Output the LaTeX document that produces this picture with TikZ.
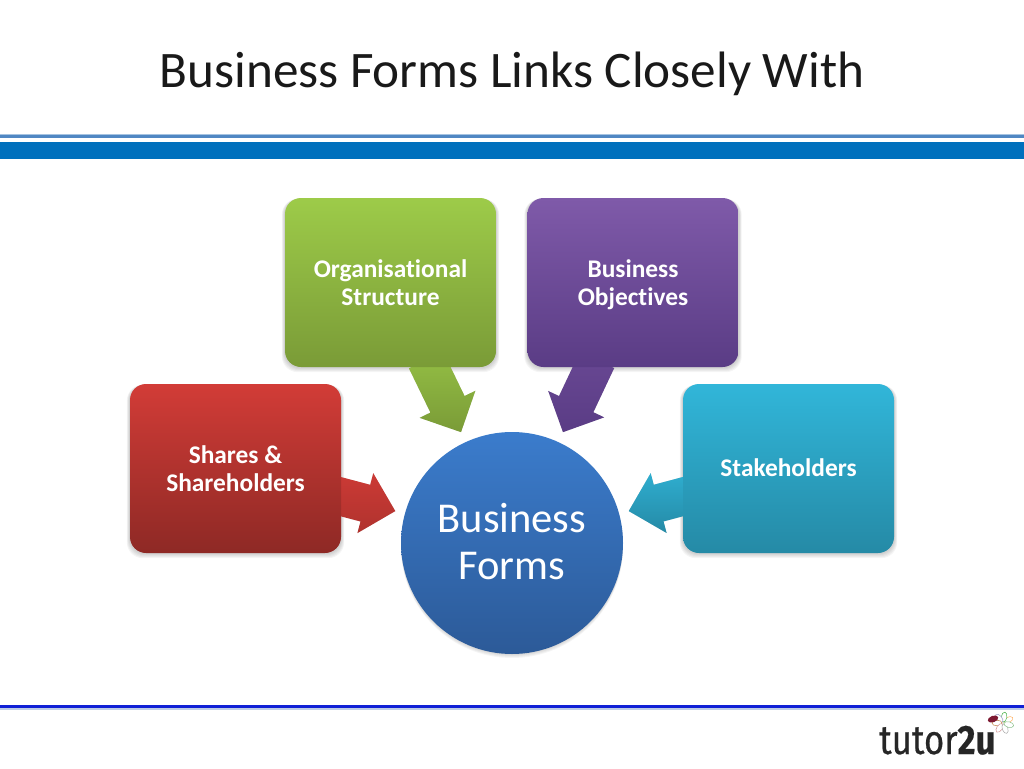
\documentclass[tikz,border=0pt]{standalone}
\usepackage{fontspec}
\setmainfont[Ligatures=NoCommon]{Carlito}
\newfontfamily\logofont{Fira Sans}
\usetikzlibrary{calc,backgrounds}
\tikzset{
  card/.style={rounded corners=16pt,minimum width=211pt,minimum height=169pt,inner sep=0pt,
    align=center,text=white,font=\fontsize{25.4}{28}\selectfont\bfseries},
  shadowlayer/.style={black,opacity=.04},
}
\definecolor{gtop}{HTML}{9DCB49}\definecolor{gbot}{HTML}{7A9B37}
\definecolor{ptop}{HTML}{7F5AA9}\definecolor{pbot}{HTML}{5A3C85}
\definecolor{rtop}{HTML}{D23C37}\definecolor{rbot}{HTML}{8E2925}
\definecolor{ttop}{HTML}{31B6D9}\definecolor{tbot}{HTML}{258AA6}
\definecolor{btop}{HTML}{3B7CCC}\definecolor{bbot}{HTML}{2C5A98}
\newcommand{\arrowoutline}[2]{%
  ($(#1)!19pt!90:(#2)$) -- ($(n)!19pt!90:(#2)$) -- ($(n)!31pt!90:(#2)$) -- (#2)
    -- ($(n)!31pt!-90:(#2)$) -- ($(n)!19pt!-90:(#2)$) -- ($(#1)!19pt!-90:(#2)$) -- cycle}
\newcommand{\blockarrow}[4]{%
  \coordinate (n) at ($(#2)!31pt!(#1)$);
  \foreach \k in {1,2,3}{\fill[shadowlayer,yshift=-\k pt] \arrowoutline{#1}{#2};}
  \path[top color=#3,bottom color=#4] \arrowoutline{#1}{#2};}
\newcommand{\cardshadow}[1]{%
  \foreach \k in {1,2,3,4,5}{
    \fill[shadowlayer,rounded corners=16pt] ($(#1.south west)+(-.6*\k pt,-\k pt)$) rectangle ($(#1.north east)+(.6*\k pt,-1pt)$);}}
\begin{document}
\begin{tikzpicture}[x=1pt,y=-1pt]
\useasboundingbox (0,0) rectangle (1024,768);
% header and footer rules
\fill[color={rgb,255:red,165;green,195;blue,225}] (0,133.5) rectangle (1024,135);
\fill[color={rgb,255:red,80;green,135;blue,195}] (0,135) rectangle (1024,137.5);
\fill[color={rgb,255:red,0;green,112;blue,189}] (0,142) rectangle (1024,159);
\fill[color={rgb,255:red,16;green,32;blue,214}] (0,705) rectangle (1024,708);
\fill[color={rgb,255:red,190;green,205;blue,230}] (0,708) rectangle (1024,709.5);
\node[anchor=base,font=\fontsize{51.2}{56}\selectfont,text=black!90] (title) at (512,87) {Business Forms Links Closely With};
% positions of the arrow ends and hub
\node[minimum size=0pt,inner sep=0pt] (hubc) at (512,543) {};
\coordinate (gs) at (426,360);
\coordinate (ps) at (597,360);
\coordinate (rs) at (327,493);
\coordinate (ts) at (696.5,493);
\coordinate (gt) at ($(hubc)+(114.7:122pt)$);
\coordinate (pt) at ($(hubc)+(65.3:122pt)$);
\coordinate (rt) at ($(hubc)+(164.7:121pt)$);
\coordinate (tt) at ($(hubc)+(15.3:121pt)$);
% block arrows
\blockarrow{gs}{gt}{gtop!75!gbot}{gbot}
\blockarrow{ps}{pt}{ptop!40!pbot}{pbot}
\blockarrow{rs}{rt}{rtop!90!rbot}{rbot!50!rtop}
\blockarrow{ts}{tt}{ttop!80!tbot}{tbot}
% cards
\node[card,top color=gtop,bottom color=gbot] (org) at (390.5,282.5) {Organisational\\Structure};
\node[card,top color=ptop,bottom color=pbot] (obj) at (633,282.5) {Business\\\raisebox{0pt}[\height][0pt]{Objectives}};
\node[card,top color=rtop,bottom color=rbot] (sha) at (235.5,468.5) {Shares \&\\Shareholders};
\node[card,top color=ttop,bottom color=tbot] (sta) at (788.5,468.5) {Stakeholders\rule[-2pt]{0pt}{2pt}};
\node[circle,minimum size=222pt,inner sep=0pt,align=center,text=white,
  font=\fontsize{42.5}{47}\selectfont,top color=btop,bottom color=bbot] (hub) at (hubc) {Business\\Forms\rule[-4pt]{0pt}{4pt}};
\begin{pgfonlayer}{background}
  \cardshadow{org}\cardshadow{obj}\cardshadow{sha}\cardshadow{sta}
  \foreach \k in {1,2,3,4}{
    \fill[shadowlayer] ($(hub.center)+(0,\k)$) circle [radius=111pt];}
\end{pgfonlayer}
% logo
\node[anchor=base west,inner sep=0pt,text=black!85] (logo) at (879,754)
  {\scalebox{.89}[1.05]{\logofont\fontsize{39}{40}\selectfont\addfontfeature{FakeBold=0.6}tutor\textbf{2u}}};
\foreach \a/\c in {30/orange!60,80/green!40!gray,130/blue!30!gray!60,180/orange!50!gray,235/red!40!gray!60,290/gray!70,345/green!30!gray!70}{
  \draw[line width=.5pt,fill=white,draw=\c,rotate around={\a:(1003,723)}] (1009,723) ellipse [x radius=5pt,y radius=2.8pt];
}
\fill[rotate around={20:(993,719)},color={rgb,255:red,125;green,25;blue,50}] (993,719) ellipse [x radius=5.5pt,y radius=3.2pt];
\end{tikzpicture}
\end{document}
